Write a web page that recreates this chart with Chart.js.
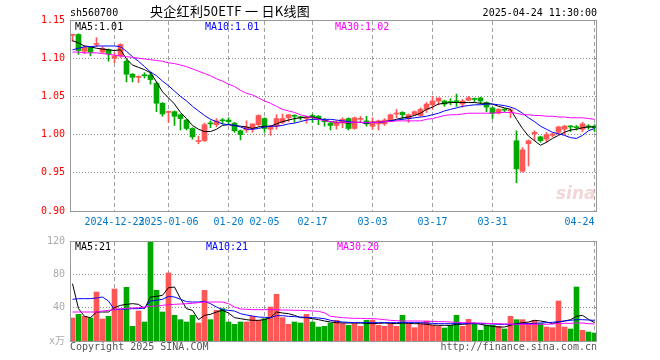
<!DOCTYPE html>
<html><head><meta charset="utf-8">
<script src="https://cdn.jsdelivr.net/npm/chart.js@4/dist/chart.umd.min.js"></script>
<style>
body{margin:0;background:#fff;width:660px;height:360px;overflow:hidden;position:relative;font-family:'DejaVu Sans Mono','Noto Sans CJK SC',monospace;}
canvas{position:absolute;left:0;}
#c1{top:0}
#c2{top:230px}
.t{position:absolute;font-size:10px;line-height:10px;white-space:pre;}
</style></head><body>
<canvas id="c1" width="660" height="232"></canvas>
<canvas id="c2" width="660" height="130"></canvas>
<div class="t" style="left:70px;top:8px;color:#000">sh560700</div>
<div class="t" style="left:150px;top:3px;font-size:13px;line-height:15px;font-family:'Noto Sans CJK SC',sans-serif;letter-spacing:0.3px;color:#000">央企红利50ETF 一 日K线图</div>
<div class="t" style="right:63px;top:8px;color:#000">2025-04-24 11:30:00</div>
<div class="t" style="left:75px;top:22px;color:#000">MA5:1.01</div>
<div class="t" style="left:205px;top:22px;color:#0000ff">MA10:1.01</div>
<div class="t" style="left:335px;top:22px;color:#ff00ff">MA30:1.02</div>
<div class="t" style="left:75px;top:242px;color:#000">MA5:21</div>
<div class="t" style="left:206px;top:242px;color:#0000ff">MA10:21</div>
<div class="t" style="left:337px;top:242px;color:#ff00ff">MA30:20</div>
<div class="t" style="left:556px;top:184px;font-size:17px;line-height:18px;font-style:italic;font-weight:bold;font-family:'DejaVu Sans',sans-serif;color:#f3d6d6">sina</div>
<div class="t" style="left:70px;top:342px;color:#555">Copyright 2025 SINA.COM</div>
<div class="t" style="right:63px;top:342px;color:#555">http://finance.sina.com.cn</div>
<script>
// ---- data ----
const tickIdx    = [7, 16, 26, 32, 40, 50, 60, 70, 87];
const tickLabels = ['2024-12-23','2025-01-06','01-20','02-05','02-17','03-03','03-17','03-31','04-24     '];
const priceTicks = [0.90, 0.95, 1.00, 1.05, 1.10, 1.15];
const volTicks   = [0, 40, 80, 120];

const openP  = [1.130,1.131,1.109,1.114,1.118,1.108,1.111,1.100,1.103,1.096,1.079,1.075,1.078,1.078,1.067,1.041,1.029,1.030,1.026,1.019,1.008,0.991,0.992,1.015,1.013,1.019,1.019,1.015,1.005,1.006,
                1.008,1.013,1.021,1.007,1.011,1.016,1.022,1.025,1.023,1.021,1.025,1.024,1.019,1.015,1.012,1.015,1.021,1.008,1.020,1.018,1.011,1.014,1.014,1.018,1.027,1.029,1.021,1.026,1.025,
                1.033,1.039,1.044,1.044,1.043,1.044,1.040,1.045,1.047,1.048,1.042,1.035,1.028,1.033,1.031,0.992,0.952,0.988,1.001,0.997,0.994,0.999,1.003,1.007,1.011,1.010,1.007,1.011,1.011];
const highP  = [1.131,1.132,1.116,1.115,1.127,1.115,1.112,1.107,1.119,1.098,1.080,1.077,1.081,1.082,1.069,1.042,1.031,1.031,1.027,1.020,1.009,0.998,1.015,1.018,1.021,1.021,1.022,1.016,1.006,1.018,
                1.014,1.026,1.022,1.012,1.026,1.027,1.026,1.026,1.024,1.024,1.027,1.025,1.021,1.016,1.018,1.022,1.022,1.023,1.024,1.024,1.022,1.019,1.021,1.027,1.033,1.030,1.027,1.031,1.035,
                1.042,1.050,1.048,1.045,1.047,1.053,1.046,1.050,1.048,1.049,1.043,1.036,1.034,1.034,1.034,1.005,0.983,0.993,1.005,0.998,1.003,1.002,1.011,1.012,1.012,1.012,1.016,1.013,1.013];
const lowP   = [1.122,1.105,1.106,1.103,1.115,1.107,1.096,1.094,1.101,1.069,1.069,1.068,1.074,1.066,1.030,1.024,1.016,1.012,1.006,1.006,0.994,0.988,0.991,1.009,1.010,1.014,1.013,1.003,0.993,1.003,
                1.003,1.011,1.003,0.999,1.007,1.014,1.017,1.016,1.019,1.015,1.016,1.013,1.011,1.006,1.007,1.009,1.006,1.007,1.016,1.011,1.007,1.006,1.012,1.017,1.022,1.020,1.016,1.025,1.024,
                1.029,1.033,1.039,1.037,1.039,1.037,1.036,1.044,1.043,1.040,1.030,1.021,1.027,1.030,1.022,0.937,0.951,0.959,0.992,0.990,0.990,0.997,1.000,1.000,1.004,1.006,1.004,1.007,1.004];
const closeP = [1.131,1.110,1.114,1.108,1.119,1.113,1.106,1.103,1.118,1.079,1.075,1.076,1.077,1.072,1.041,1.027,1.030,1.024,1.021,1.008,0.997,0.992,1.013,1.014,1.018,1.018,1.017,1.005,1.000,1.010,
                1.014,1.025,1.008,1.011,1.021,1.021,1.026,1.024,1.022,1.022,1.022,1.020,1.017,1.012,1.016,1.020,1.008,1.022,1.021,1.014,1.017,1.018,1.019,1.026,1.028,1.026,1.026,1.030,1.033,
                1.040,1.044,1.048,1.040,1.042,1.043,1.044,1.048,1.046,1.044,1.036,1.028,1.033,1.032,1.032,0.955,0.980,0.992,1.003,0.992,1.000,1.001,1.010,1.011,1.010,1.009,1.014,1.010,1.009];

const ma5P  = [1.123,1.120,1.116,1.115,1.113,1.112,1.111,1.110,1.111,1.099,1.091,1.088,1.085,1.081,1.069,1.056,1.048,1.040,1.029,1.021,1.012,1.007,1.004,1.004,1.007,1.012,1.013,1.012,1.011,1.010,
               1.008,1.010,1.011,1.011,1.014,1.017,1.019,1.021,1.022,1.023,1.023,1.021,1.019,1.017,1.016,1.016,1.015,1.016,1.016,1.015,1.016,1.016,1.017,1.018,1.020,1.022,1.023,1.025,1.028,
               1.033,1.036,1.040,1.041,1.042,1.042,1.042,1.042,1.042,1.041,1.041,1.040,1.037,1.035,1.033,1.020,1.008,0.998,0.992,0.986,0.990,0.995,0.999,1.003,1.006,1.007,1.009,1.010,1.010];
const ma10P = [1.111,1.113,1.115,1.115,1.116,1.116,1.116,1.116,1.115,1.109,1.102,1.096,1.089,1.082,1.077,1.070,1.064,1.057,1.050,1.044,1.037,1.031,1.025,1.020,1.017,1.014,1.013,1.012,1.010,1.007,
               1.007,1.008,1.010,1.011,1.011,1.012,1.014,1.015,1.017,1.019,1.020,1.020,1.020,1.020,1.019,1.018,1.017,1.016,1.016,1.015,1.016,1.016,1.017,1.018,1.019,1.020,1.021,1.022,1.023,
               1.024,1.026,1.028,1.031,1.033,1.035,1.037,1.038,1.039,1.039,1.040,1.040,1.039,1.038,1.036,1.033,1.028,1.022,1.017,1.011,1.007,1.003,1.001,0.999,0.996,0.995,0.999,1.005,1.008];
const ma30P = [1.108,1.108,1.107,1.107,1.107,1.106,1.105,1.104,1.103,1.102,1.101,1.100,1.099,1.098,1.097,1.096,1.094,1.093,1.091,1.089,1.086,1.083,1.080,1.077,1.073,1.070,1.066,1.063,1.058,1.054,
               1.052,1.048,1.044,1.041,1.037,1.033,1.031,1.029,1.026,1.024,1.022,1.020,1.018,1.017,1.016,1.016,1.016,1.016,1.016,1.016,1.016,1.016,1.017,1.017,1.018,1.018,1.018,1.018,1.018,
               1.020,1.021,1.023,1.025,1.026,1.026,1.027,1.028,1.028,1.028,1.028,1.028,1.029,1.029,1.029,1.028,1.026,1.026,1.025,1.025,1.024,1.024,1.023,1.023,1.022,1.022,1.022,1.021,1.020];

const vol   = [27.6,32,29.6,27.6,58.8,26.4,29.6,62.4,36.8,64.4,17.6,36,22.8,119.6,60.8,34.8,81.6,30.8,25.6,22.8,30.8,21.6,60.8,25.6,36.8,38.8,22.8,20,22.8,22.8,
               29.6,24.8,26.8,40.8,56,28,20,22.8,21.6,32,22.8,16.8,17.6,21.6,24.8,20.8,18.8,20.8,17.6,24.8,24.8,18.8,17.6,20.8,17.6,30.8,21.6,16,20.8,
               24,18.8,17.6,15.6,18.8,30.8,17.6,26,20.8,12.8,18.8,18.8,17.6,14.4,29.6,25.6,25.6,21.6,24.8,20.8,16.8,16,48,16.8,14.4,64.8,12.8,10.8,9.6];
const ma5V  = [68.8,38.8,29.6,28,34.8,34.8,34.8,40,42.8,44,44.8,44,38.8,52.8,53.6,54.8,64,64.8,50.8,38.8,36.8,25.6,30.8,32,34.8,36.8,33.6,28,26.8,25.6,
               24.8,24.8,25.6,28,34.8,33.6,32.8,30.8,28,28,26.8,25.6,24,22.8,22,21.6,21.6,21.6,21.6,21.2,20.8,21.2,21.6,21.2,20.8,21.6,21.2,20.8,20.8,
               20,19.2,18.8,18.8,18.8,20,20,20.8,21.6,20,18.8,17.6,16.8,16.8,18.8,20.8,22,22.8,24.8,24,22.8,20.8,22.8,24,25.6,29.6,30.8,26,22];
const ma10V = [50,50.8,50.8,50.8,51.6,52.8,48,37.6,38,38.4,38.8,38.8,39.6,48,48.8,50,53.6,52.8,50,47.2,46.8,46.8,47.6,44.8,40.8,37.6,36.8,36,32.8,31.2,
               30,28.8,28.4,28,30.4,30.4,29.6,29.2,28.8,28.4,28,27.6,26.8,24.8,23.6,22.8,22.4,22,22,22,22,22,22,22,22,22,22,22,22,
               21.6,21.2,20.8,20.8,20.8,20.8,20.8,20.8,20.8,20.8,20.8,20.4,20,20,20,20.4,20.8,20.8,21.2,21.6,22,22.4,23.2,24,24.8,25.6,25.6,25.2,24.8];
const ma30V = [34.8,34.8,34.8,34.8,34.8,36,36.8,37.6,38.8,39.2,39.6,40,40.8,41.6,42,42.8,43.6,44,44.4,44.8,45.2,46,46.8,46.8,46.8,46.8,44.8,40.8,38.4,38,
               37.6,37.6,37.6,37.6,37.6,37.2,37.2,36.8,36.8,36.4,36,35.6,33.8,29.6,28.8,28,27.6,27.2,27.2,26.8,26.8,26.4,25.6,24.8,24.4,24,24,24,24,
               23.6,23.6,23.2,23.2,22.8,22.4,22,22,21.6,21.6,21.2,20.8,20.8,20.4,20.4,20,20,20,20,20,20,20.4,21.2,21.2,21.2,21.6,21.6,20.8,20.4];

// ---- chart setup ----
const RED = '#ff5656', GREEN = '#00a800';
const FONT = "'DejaVu Sans Mono','Noto Sans CJK SC',monospace";
const X_MIN = -2.5/6, X_MAX = 87 + 2.5/6;
const idx = closeP.map((_, i) => i);
const colors = idx.map(i => closeP[i] >= openP[i] ? RED : GREEN);

// grid lines at the scales' tick values (dotted horizontal, dashed vertical)
function drawGridLines(chart) {
  const a = chart.chartArea, ctx = chart.ctx, xs = chart.scales.x, ys = chart.scales.y;
  ctx.save();
  ctx.strokeStyle = '#8c8c8c';
  ctx.lineWidth = 1;
  ctx.setLineDash([1, 2]);
  ys.getTicks().forEach(t => {
    const y = Math.floor(ys.getPixelForValue(t.value)) + 0.5;
    ctx.beginPath(); ctx.moveTo(a.left, y); ctx.lineTo(a.right, y); ctx.stroke();
  });
  ctx.strokeStyle = '#a0a0a0';
  ctx.setLineDash([4, 3]);
  xs.getTicks().forEach(t => {
    const x = Math.floor(xs.getPixelForValue(t.value)) + 0.5;
    ctx.beginPath(); ctx.moveTo(x, a.top + 1); ctx.lineTo(x, a.bottom); ctx.stroke();
  });
  ctx.restore();
}

const gridPlugin = {
  id: 'gridlines',
  beforeDatasetsDraw(chart) { drawGridLines(chart); }
};

const framePlugin = {
  id: 'frame',
  afterDraw(chart) {
    const a = chart.chartArea, ctx = chart.ctx;
    ctx.save();
    ctx.strokeStyle = '#999';
    ctx.lineWidth = 1;
    ctx.setLineDash([]);
    ctx.strokeRect(a.left + 0.5, a.top + 0.5, a.right - a.left - 1, a.bottom - a.top);
    ctx.restore();
  }
};

function xScale(showLabels) {
  return {
    type: 'linear', min: X_MIN, max: X_MAX, bounds: 'data', offset: false,
    afterBuildTicks: s => { s.ticks = tickIdx.map(v => ({ value: v })); },
    afterFit: s => { s.height = showLabels ? 21 : 0; s.paddingLeft = 0; s.paddingRight = 0; },
    ticks: {
      display: showLabels, autoSkip: false, maxRotation: 0, minRotation: 0, padding: 5,
      color: '#0078c8', font: { family: FONT, size: 10 },
      callback: (v, i) => tickLabels[i]
    },
    grid: { display: false, drawTicks: false, offset: false },
    border: { display: false }
  };
}

function yScale(min, max, ticksArr, color, fmt) {
  return {
    type: 'linear', min: min, max: max, bounds: 'data',
    afterBuildTicks: s => { s.ticks = ticksArr.map(v => ({ value: v })); },
    afterFit: s => { s.width = 70; },
    ticks: { color: color, padding: 5, font: { family: FONT, size: 10 }, callback: fmt },
    grid: { display: false, drawTicks: false },
    border: { display: false }
  };
}

function lineDs(data, color) {
  return {
    type: 'line', data: idx.map(i => ({ x: i, y: data[i] })),
    borderColor: color, borderWidth: 1, pointRadius: 0, tension: 0, order: 0, fill: false
  };
}

const common = {
  responsive: false, animation: false, events: [],
  plugins: { legend: { display: false }, tooltip: { enabled: false } }
};

new Chart(document.getElementById('c1'), {
  type: 'bar',
  data: {
    datasets: [
      { data: idx.map(i => ({ x: i, y: [lowP[i], highP[i]] })), backgroundColor: colors,
        barThickness: 1, grouped: false, minBarLength: 1, order: 3 },
      { data: idx.map(i => ({ x: i, y: [openP[i], closeP[i]] })), backgroundColor: colors,
        barThickness: 5, grouped: false, minBarLength: 1, order: 2 },
      lineDs(ma30P, '#ff00ff'),
      lineDs(ma10P, '#0000ff'),
      lineDs(ma5P, '#000000')
    ]
  },
  options: Object.assign({}, common, {
    layout: { padding: { left: 0, right: 63, top: 20, bottom: 0 } },
    scales: {
      x: xScale(true),
      y: yScale(0.90, 1.15, priceTicks, '#ff0000', v => v.toFixed(2))
    }
  }),
  plugins: [gridPlugin, framePlugin]
});

new Chart(document.getElementById('c2'), {
  type: 'bar',
  data: {
    datasets: [
      { data: idx.map(i => ({ x: i, y: vol[i] })), backgroundColor: colors,
        barThickness: 5, grouped: false, order: 2 },
      lineDs(ma30V, '#ff00ff'),
      lineDs(ma10V, '#0000ff'),
      lineDs(ma5V, '#000000')
    ]
  },
  options: Object.assign({}, common, {
    layout: { padding: { left: 0, right: 63, top: 11, bottom: 19 } },
    scales: {
      x: xScale(false),
      y: yScale(0, 120, volTicks, '#aaa', v => v === 0 ? 'x万' : String(v))
    }
  }),
  plugins: [gridPlugin, framePlugin]
});
</script>
</body></html>
